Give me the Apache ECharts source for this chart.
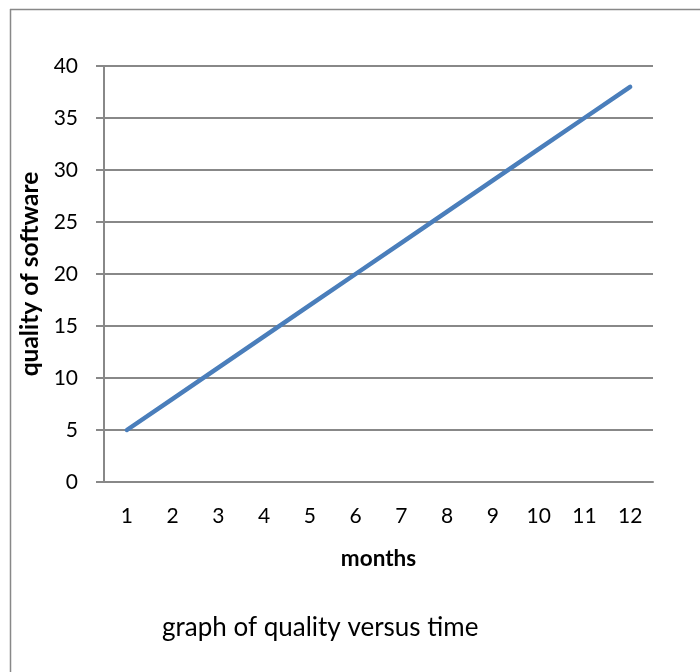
<!DOCTYPE html>
<html>
<head>
<meta charset="utf-8">
<style>
html,body{margin:0;padding:0;background:#fff;}
#chart{width:700px;height:672px;}
</style>
<script src="https://cdn.jsdelivr.net/npm/echarts@6/dist/echarts.min.js"></script>
</head>
<body>
<div id="chart"></div>
<script>
const months = ['1','2','3','4','5','6','7','8','9','10','11','12'];
const quality = [5, 8, 11, 14, 17, 20, 23, 26, 29, 32, 35, 38];
const yTicks = {min: 0, max: 40, interval: 5};

const FONT = 'Lato, "Open Sans", sans-serif';
const chart = echarts.init(document.getElementById('chart'), null, {renderer: 'canvas'});
chart.setOption({
  animation: false,
  backgroundColor: '#fff',
  graphic: [
    {type: 'line', shape: {x1: 10, y1: 9.5, x2: 700, y2: 9.5}, style: {stroke: '#888', lineWidth: 1.5}, silent: true},
    {type: 'line', shape: {x1: 10.5, y1: 9, x2: 10.5, y2: 672}, style: {stroke: '#888', lineWidth: 1.5}, silent: true},
    {type: 'text', left: 162, top: 615, style: {text: 'graph of quality versus time', font: '26px ' + FONT, fill: '#000'}}
  ],
  grid: {left: 104, right: 47, top: 66, bottom: 190, containLabel: false},
  xAxis: {
    type: 'category',
    data: months,
    boundaryGap: true,
    name: 'months',
    nameLocation: 'middle',
    nameGap: 65,
    nameTextStyle: {fontFamily: FONT, fontSize: 22.5, fontWeight: 'bold', color: '#000'},
    axisLine: {lineStyle: {color: '#888', width: 2}},
    axisTick: {show: false},
    axisLabel: {fontFamily: FONT, fontSize: 21, color: '#000', margin: 24}
  },
  yAxis: {
    type: 'value',
    min: yTicks.min, max: yTicks.max, interval: yTicks.interval,
    name: 'quality of software',
    nameLocation: 'middle',
    nameRotate: 90,
    nameGap: 51,
    nameTextStyle: {fontFamily: FONT, fontSize: 24.5, fontWeight: 'bold', color: '#000'},
    axisLine: {show: true, lineStyle: {color: '#888', width: 2}},
    axisTick: {show: true, length: 8, lineStyle: {color: '#888', width: 2}},
    splitLine: {lineStyle: {color: '#888', width: 2}},
    axisLabel: {fontFamily: FONT, fontSize: 21, color: '#000', margin: 26}
  },
  series: [{
    type: 'line',
    data: quality,
    showSymbol: false,
    lineStyle: {color: '#4a7ebb', width: 4.5, cap: 'round'}
  }]
});
</script>
</body>
</html>
